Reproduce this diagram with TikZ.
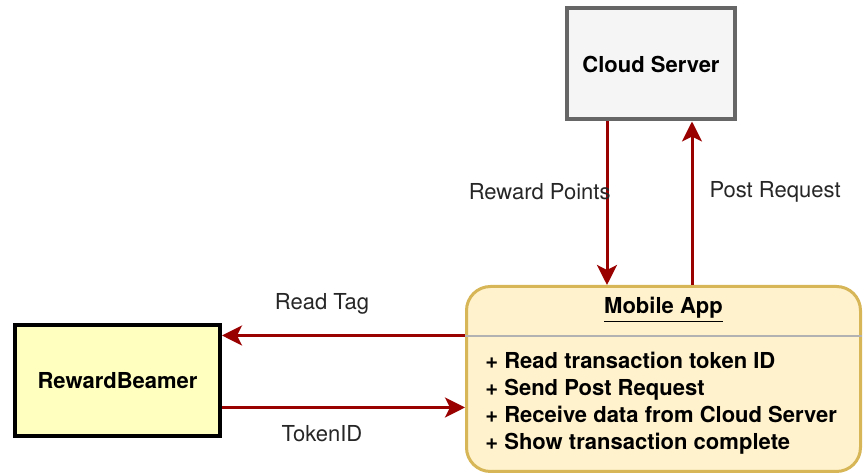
\documentclass[tikz,border=0pt]{standalone}
\usepackage{fontspec}
\setmainfont{TeX Gyre Heros}
\definecolor{servergray}{RGB}{102, 102, 102}
\definecolor{serverfill}{RGB}{245, 245, 245}
\definecolor{beamerfill}{RGB}{255, 255, 192}
\definecolor{appline}{RGB}{214, 182, 86}
\definecolor{appfill}{RGB}{255, 242, 204}
\definecolor{flowred}{RGB}{153, 0, 0}
\usetikzlibrary{arrows.meta, positioning, calc}

\tikzset{
  flow/.style={-{Stealth[length=10pt, width=10pt, inset=2.5pt]}, draw=flowred, line width=1.5pt},
  flowlabel/.style={inner sep=0pt, text=black!85, font=\fontsize{11}{13.5}\selectfont}
}

\begin{document}
\begin{tikzpicture}[x=0.5pt, y=-0.5pt]
  \useasboundingbox (0, 0) rectangle (864, 474);
  \node[draw=servergray, fill=serverfill, line width=2pt, minimum width=84pt, minimum height=55.5pt, font=\fontsize{11}{13.5}\selectfont\bfseries] (cloud) at (651, 64) {Cloud Server};
  \node[draw=black, fill=beamerfill, line width=2pt, minimum width=102.5pt, minimum height=55.5pt, font=\fontsize{11}{13.5}\selectfont\bfseries] (beamer) at (117.5, 380.5) {RewardBeamer};
  \node[draw=appline, fill=appfill, line width=1.5pt, rounded corners=12pt, minimum width=197pt, minimum height=92.5pt] (app) at (663.5, 379) {};
  \node[font=\fontsize{11}{13.5}\selectfont\bfseries] (apptitle) at (663.5, 310) {\underline{Mobile App}};
  \draw[black!30, line width=0.8pt] ([yshift=-25.5pt]app.north west) -- ([yshift=-25.5pt]app.north east);
  \node[anchor=north west, inner sep=0pt, align=left, font=\fontsize{11}{13.5}\selectfont\bfseries] (appitems) at (485, 352) {+ Read transaction token ID\\+ Send Post Request\\+ Receive data from Cloud Server\\+ Show transaction complete};

  % connectors between the boxes
  \coordinate (readin) at ([yshift=22.5pt]beamer.east);
  \coordinate (tokenout) at ([yshift=-13.5pt]beamer.east);
  \coordinate (pointsout) at ([xshift=-22pt]cloud.south);
  \coordinate (postin) at ([xshift=20.5pt]cloud.south);
  \draw[flow] (pointsout) -- (pointsout |- app.north) node[midway, flowlabel, anchor=east, xshift=2.5pt, yshift=5.75pt] {Reward Points};
  \draw[flow] (postin |- app.north) -- (postin) node[midway, flowlabel, anchor=west, xshift=8pt, yshift=5.75pt] {Post Request};
  \draw[flow] (app.west |- readin) -- (readin) node[midway, flowlabel, xshift=-10.75pt, yshift=16pt] {Read Tag};
  \draw[flow] (tokenout) -- (app.west |- tokenout) node[midway, flowlabel, xshift=-10.75pt, yshift=-13pt] {TokenID};
\end{tikzpicture}
\end{document}
